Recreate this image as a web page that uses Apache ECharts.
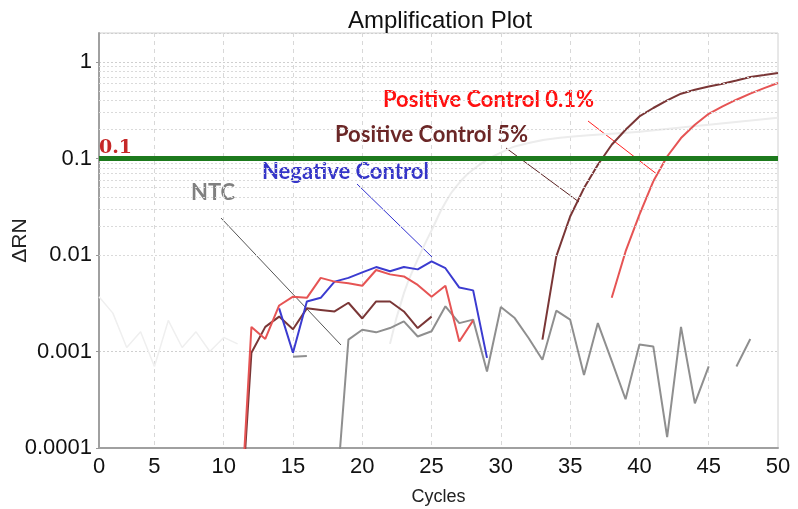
<!DOCTYPE html>
<html><head><meta charset="utf-8">
<script src="https://cdn.jsdelivr.net/npm/echarts@6/dist/echarts.min.js"></script>
<style>html,body{margin:0;padding:0;background:#fff}#c{width:798px;height:509px}</style>
</head><body><div id="c"></div>
<script>
// ---- data (cycle index 1..50) ----
const cycles = [1,2,3,4,5,6,7,8,9,10,11,12,13,14,15,16,17,18,19,20,21,22,23,24,25,26,27,28,29,30,31,32,33,34,35,36,37,38,39,40,41,42,43,44,45,46,47,48,49,50];
const posControl01 = [null,null,null,null,null,null,null,null,null,null,
  0.0000056,0.0018,0.00135,0.0030,0.0037,0.0036,0.0058,0.0053,0.0051,0.0048,
  0.0070,0.0063,0.0060,0.0049,0.0037,0.0048,0.00127,0.0021,null,null,
  null,null,null,null,null,null,null,0.0036,0.0109,0.0262,
  0.058,0.105,0.163,0.224,0.291,0.347,0.407,0.47,0.537,0.606];
const posControl5 = [null,null,null,null,null,null,null,null,null,null,
  0.0000056,0.00097,0.0018,0.0023,0.0017,0.0028,0.0027,0.0026,0.0032,0.0022,
  0.0033,0.0033,0.0026,0.00175,0.0023,null,null,null,null,null,
  null,null,0.00133,0.0097,0.0251,0.0494,0.0863,0.139,0.199,0.273,
  0.334,0.40,0.47,0.516,0.559,0.596,0.645,0.699,0.733,0.769];
const negControl = [null,null,null,null,null,null,null,null,null,null,
  null,null,null,0.0028,0.00097,0.0033,0.0036,0.0053,0.0058,0.0066,
  0.0075,0.0068,0.0075,0.0071,0.0086,0.0073,0.0046,0.0043,0.00086,null,
  null,null,null,null,null,null,null,null,null,null,
  null,null,null,null,null,null,null,null,null,null];
const ntc = [null,null,null,null,null,null,null,null,null,null,
  null,null,null,null,0.00088,0.0009,null,0.000018,0.00133,0.00168,
  0.00158,0.00175,0.00205,0.00143,0.00162,0.00294,0.00197,0.00214,0.00062,0.00289,
  0.00222,0.00138,0.00082,0.00265,0.00214,0.00057,0.00197,0.0008,0.00032,0.00118,
  0.00113,0.00013,0.0018,0.00029,0.0007,null,0.0007,0.00135,null,null];
// faint background traces
const faintCycles = [22,23,24,25,26,27,28,30,32,35,40,45,50];
const faintCurve = [0.0012,0.004,0.009,0.018,0.035,0.056,0.077,0.115,0.145,0.168,0.19,0.224,0.265];
const faintNoiseCycles = [1,2,3,4,5,6,7,8,9,10,11];
const faintNoise = [0.0037,0.0025,0.0011,0.0016,0.0007,0.0021,0.0011,0.0016,0.001,0.0014,0.0012];
const threshold = 0.1;
const xTickValues = [1,5,10,15,20,25,30,35,40,45,50];
const xTickLabels = ['0','5','10','15','20','25','30','35','40','45','50'];
const xGridValues = [5,10,15,20,25,30,35,40,45];
const yTickValues = [0.0001,0.001,0.01,0.1,1];
const yTickLabels = ['0.0001','0.001','0.01','0.1','1'];
const decadeMultipliers = [2,3,4,5,6,7,8,9];

function pairs(xs, ys){ return xs.map((x,i)=>[x, ys[i]==null ? null : ys[i]]); }
const minorLines = [];
yTickValues.forEach(d => decadeMultipliers.forEach(m => { if (d*m < 2) minorLines.push({yAxis: d*m}); }));

const chart = echarts.init(document.getElementById('c'), null, {renderer:'canvas'});
const lineBase = {type:'line', showSymbol:false, symbol:'none', connectNulls:false, clip:true, animation:false, z:3};
chart.setOption({
  animation:false,
  backgroundColor:'#fff',
  title:{text:'Amplification Plot', left:343, top:4,
    textStyle:{fontFamily:'Liberation Sans', fontSize:24, fontWeight:'normal', color:'#111'}},
  grid:{left:99, right:20, top:33, bottom:61, show:true, borderColor:'#d0d0d0', borderWidth:1,
    containLabel:false, outerBoundsMode:'none'},
  xAxis:{type:'value', min:1, max:50,
    name:'Cycles', nameLocation:'middle', nameGap:40, nameMoveOverlap:false,
    nameTextStyle:{fontFamily:'Liberation Sans', fontSize:18, color:'#222'},
    axisLine:{show:true, lineStyle:{color:'#a0a0a0', width:2}},
    axisTick:{show:false, customValues:xGridValues},
    axisLabel:{customValues:xTickValues, margin:8, fontFamily:'Liberation Sans', fontSize:22, color:'#111',
      formatter:v => { const i = xTickValues.indexOf(v); return i>=0 ? xTickLabels[i] : ''; }},
    splitLine:{show:true, lineStyle:{color:'#d8d8d8', type:[4,4], width:1}}
  },
  yAxis:{type:'log', logBase:10, min:0.0001, max:2,
    name:'ΔRN', nameLocation:'middle', nameGap:68, nameRotate:90, nameMoveOverlap:false,
    nameTextStyle:{fontFamily:'Liberation Sans', fontSize:21, color:'#222'},
    axisLine:{show:true, lineStyle:{color:'#a0a0a0', width:2}},
    axisTick:{show:true, length:3, lineStyle:{color:'#999'}},
    axisLabel:{showMaxLabel:false, margin:7, fontFamily:'Liberation Sans', fontSize:22, color:'#111',
      formatter:v => { const k = Math.round(Math.log10(v)); const i = yTickValues.findIndex(t => Math.round(Math.log10(t))===k);
        return (i>=0 && Math.abs(Math.log10(v)-k)<0.01) ? yTickLabels[i] : ''; }},
    splitLine:{show:true, lineStyle:{color:'#cfcfcf', type:[2,2], width:1}}
  },
  series:[
    {type:'line', data:[], z:1, silent:true,
      markLine:{silent:true, symbol:'none', label:{show:false}, animation:false,
        lineStyle:{color:'#dadada', type:[2,2], width:1}, data:minorLines}},
    Object.assign({}, lineBase, {name:'faint1', z:2, data:pairs(faintCycles, faintCurve), smooth:true,
      lineStyle:{color:'#ececec', width:2}}),
    Object.assign({}, lineBase, {name:'faint2', z:2, data:pairs(faintNoiseCycles, faintNoise),
      lineStyle:{color:'#efefef', width:1.5}}),
    Object.assign({}, lineBase, {name:'NTC', data:pairs(cycles, ntc), lineStyle:{color:'#8f8f8f', width:2}}),
    Object.assign({}, lineBase, {name:'Positive Control 5%', data:pairs(cycles, posControl5), lineStyle:{color:'#7a3636', width:2}}),
    Object.assign({}, lineBase, {name:'Negative Control', data:pairs(cycles, negControl), lineStyle:{color:'#3b3bd0', width:2}}),
    Object.assign({}, lineBase, {name:'Positive Control 0.1%', data:pairs(cycles, posControl01), lineStyle:{color:'#e65454', width:2}}),
    {type:'line', data:[], z:4, silent:true,
      markLine:{silent:true, symbol:'none', animation:false,
        lineStyle:{color:'#1d7a1d', width:5, type:'solid'},
        label:{show:true, position:'insideStartTop', formatter:'0.1', distance:[0,1],
          fontFamily:'DejaVu Serif', fontSize:19, fontWeight:'bold', color:'#c62828'},
        data:[{yAxis:threshold}]}}
  ],
  graphic:[
    {type:'text', left:383, top:89, style:{text:'Positive Control 0.1%', fill:'#ff1010', font:'bold 22px Lato'}},
    {type:'text', left:335, top:124, style:{text:'Positive Control 5%', fill:'#6b2727', font:'bold 22px Lato'}},
    {type:'text', left:262, top:161, style:{text:'Negative Control', fill:'#3535c8', font:'bold 22px Lato'}},
    {type:'text', left:191, top:182, style:{text:'NTC', fill:'#808080', font:'bold 22px Lato'}},
    {type:'line', shape:{x1:588, y1:121, x2:658, y2:175}, style:{stroke:'#ff2020', lineWidth:1}},
    {type:'line', shape:{x1:506, y1:148, x2:579, y2:202}, style:{stroke:'#5a2222', lineWidth:1}},
    {type:'line', shape:{x1:357, y1:184, x2:432, y2:257}, style:{stroke:'#3030d0', lineWidth:1}},
    {type:'line', shape:{x1:221, y1:218, x2:341, y2:345}, style:{stroke:'#555', lineWidth:1}}
  ]
});
</script></body></html>
